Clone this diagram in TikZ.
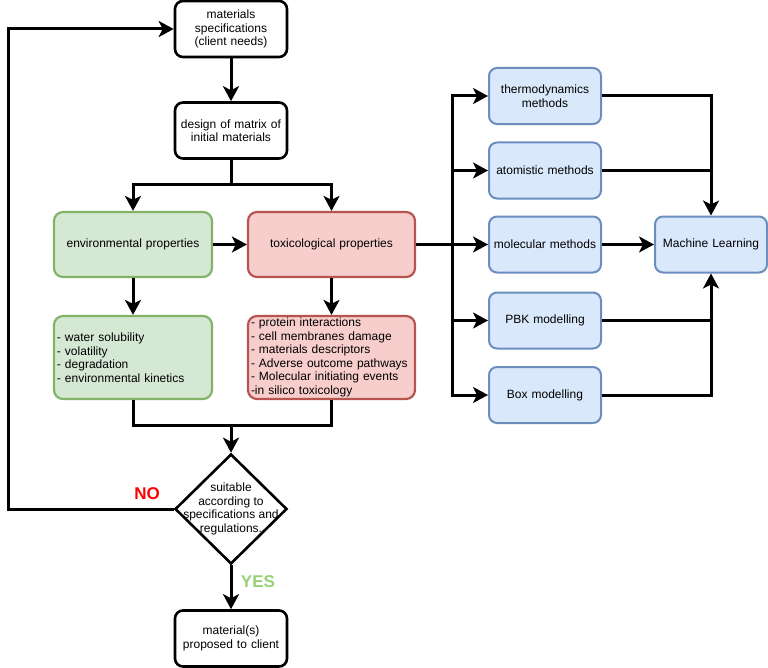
\documentclass[tikz,border=0pt]{standalone}
\usepackage{fontspec}
\setmainfont{Liberation Sans}
\usetikzlibrary{arrows.meta,shapes.geometric,calc}
\definecolor{gfill}{HTML}{D5E8D4}
\definecolor{gline}{HTML}{82B366}
\definecolor{rfill}{HTML}{F8CECC}
\definecolor{rline}{HTML}{B85450}
\definecolor{bfill}{HTML}{DAE8FC}
\definecolor{bline}{HTML}{6C8EBF}
\definecolor{yesgreen}{HTML}{97D077}
\begin{document}
\begin{tikzpicture}[x=1bp,y=-1bp,
  txt/.style={font=\fontsize{12bp}{13.5bp}\selectfont},
  wbox/.style={txt, draw=black, line width=2.6bp, fill=white, rounded corners=8bp, minimum width=112bp, minimum height=56bp, inner sep=0pt, align=center, text width=110bp},
  gbox/.style={txt, draw=gline, line width=2.2bp, fill=gfill, rounded corners=9bp, minimum width=158bp, minimum height=65bp, inner sep=0pt, align=center, text width=156bp},
  rbox/.style={txt, draw=rline, line width=2.2bp, fill=rfill, rounded corners=9bp, minimum width=167bp, minimum height=65bp, inner sep=0pt, align=center, text width=165bp},
  bbox/.style={txt, draw=bline, line width=2bp, fill=bfill, rounded corners=8bp, minimum width=112bp, minimum height=56bp, inner sep=0pt, align=center, text width=110bp},
  conn/.style={line width=3bp, draw=black},
  arr/.style={conn, -{Stealth[length=15bp, width=16bp, inset=4bp]}},
  lbl/.style={font=\fontsize{17bp}{20bp}\selectfont\bfseries}
]
\useasboundingbox (0,0) rectangle (768,668);

% main column
\node[wbox] (spec) at (231,29) {materials\\specifications\\(client needs)};
\node[wbox] (design) at (231,130.5) {design of matrix of\\initial materials};
\node[gbox] (env) at (133,244.5) {environmental properties};
\node[rbox] (tox) at (331.5,244.5) {toxicological properties};
\node[gbox, minimum height=83bp, align=left, text width=152bp] (envl) at (133,357.5)
  {- water solubility\\- volatility\\- degradation\\- environmental kinetics};
\node[rbox, minimum height=83bp, align=left, text width=161bp] (toxl) at (331.5,357.5)
  {- protein interactions\\- cell membranes damage\\- materials descriptors\\- Adverse outcome pathways\\- Molecular initiating events\\-in silico toxicology};
\node[draw=black, line width=2.6bp, diamond, minimum width=112bp, minimum height=110bp, inner sep=0pt] (dia) at (231,509) {};
\node[txt, align=center] (diatext) at (231,509) {suitable\\according to\\specifications and\\regulations.};
\node[wbox] (final) at (231,638.5) {material(s)\\proposed to client};

% right column
\node[bbox] (thermo) at (545,96) {thermodynamics\\methods};
\node[bbox] (atom) at (545,170.5) {atomistic methods};
\node[bbox] (mol) at (545,244.5) {molecular methods};
\node[bbox] (pbk) at (545,320.5) {PBK modelling};
\node[bbox] (boxm) at (545,395) {Box modelling};
\node[bbox] (ml) at (711,244.5) {Machine Learning};

% labels
\node[lbl, text=red] (no) at (147,494) {NO};
\node[lbl, text=yesgreen] (yes) at (258,582) {YES};

% helper coordinates
\coordinate (split) at (231,184);
\coordinate (merge) at (231,425);
\coordinate (fb) at (8,509);
\coordinate (bus) at (452,244.5);

% connectors
\draw[arr] (spec.south) -- (design.north);
\draw[conn] (design.south) -- (split);
\draw[arr] (split) -| (env.north);
\draw[arr] (split) -| (tox.north);
\draw[arr] (env.east) -- (tox.west);
\draw[arr] (env.south) -- (envl.north);
\draw[arr] (tox.south) -- (toxl.north);
\draw[conn] (envl.south) |- (merge) -| (toxl.south);
\draw[arr] (merge) -- (dia.north);
\draw[arr] (dia.west) -- (fb) |- (spec.west);
\draw[arr] (dia.south) -- (final.north);

\draw[conn] (tox.east) -- (bus);
\draw[arr] (bus) |- (thermo.west);
\draw[arr] (bus) |- (atom.west);
\draw[arr] (bus) -- (mol.west);
\draw[arr] (bus) |- (pbk.west);
\draw[arr] (bus) |- (boxm.west);

\draw[arr] (thermo.east) -| (ml.north);
\draw[conn] (atom.east) -- (atom.east -| ml.north);
\draw[arr] (mol.east) -- (ml.west);
\draw[conn] (pbk.east) -- (pbk.east -| ml.south);
\draw[arr] (boxm.east) -| (ml.south);
\end{tikzpicture}
\end{document}
